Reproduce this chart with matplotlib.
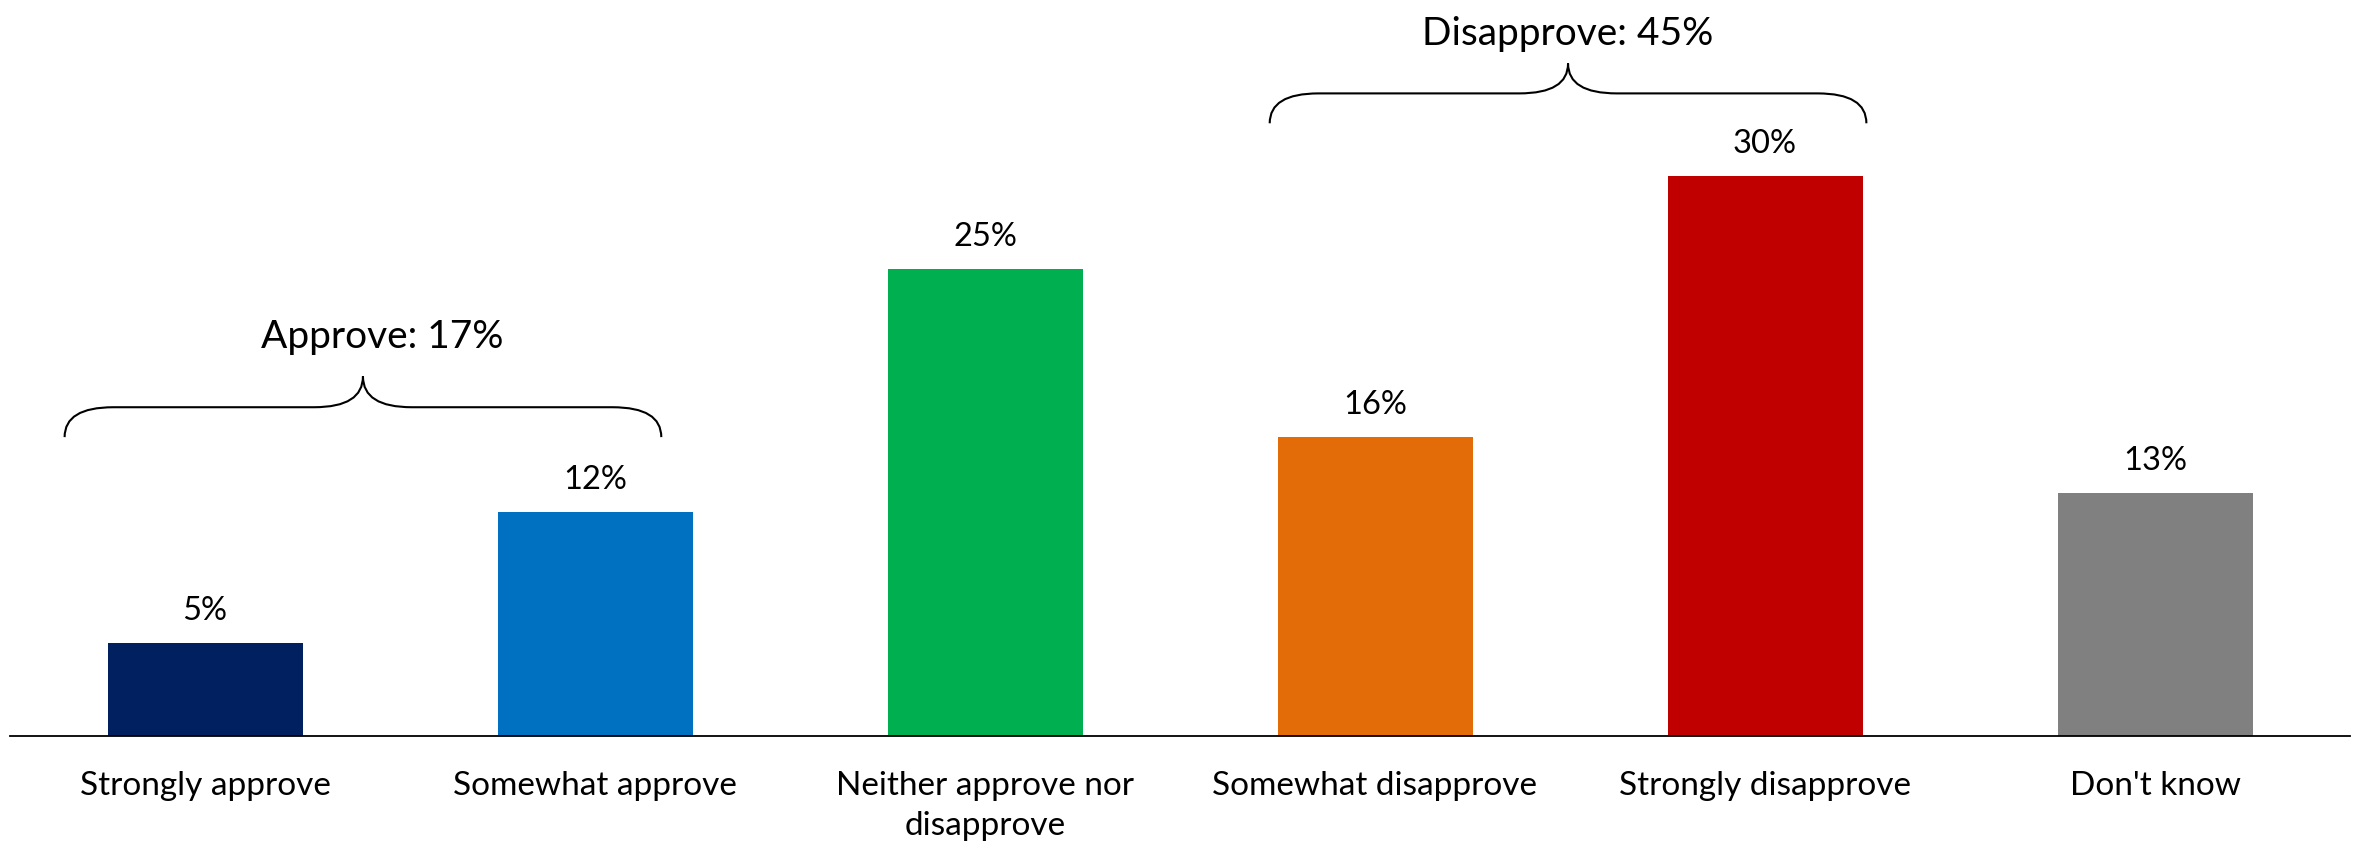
import numpy as np
import matplotlib.pyplot as plt
from matplotlib.path import Path
from matplotlib.patches import PathPatch

plt.rcParams['font.family'] = ['Lato', 'DejaVu Sans']

# ===================== data =====================
categories = [
    'Strongly approve',
    'Somewhat approve',
    'Neither approve nor\ndisapprove',
    'Somewhat disapprove',
    'Strongly disapprove',
    "Don't know",
]
values = [5, 12, 25, 16, 30, 13]
colors = ['#002060', '#0070C0', '#00B050', '#E36C09', '#C00000', '#808080']

group_labels = ['Approve: 17%', 'Disapprove: 45%']
group_members = [(0, 1), (3, 4)]

# ===================== figure =====================
fig = plt.figure(figsize=(23.59, 8.52), dpi=100)
ax = fig.add_axes([10 / 2359, 116 / 852, 2340 / 2359, 736 / 852])

x = np.arange(len(categories))
bars = ax.bar(x, values, width=0.5, color=colors)

for xi, v in zip(x, values):
    ax.annotate(f'{v}%', (xi, v), xytext=(0, 16.5), textcoords='offset points',
                ha='center', va='baseline', fontsize=23.5)

ax.set_xlim(-0.5, len(categories) - 0.5)
ax.set_ylim(0, 39.4)
ax.set_yticks([])
ax.set_xticks(x)
ax.set_xticklabels(categories, fontsize=24, linespacing=1.42)
ax.tick_params(axis='x', length=0, pad=25)
for side in ['left', 'right', 'top']:
    ax.spines[side].set_visible(False)
ax.spines['bottom'].set_linewidth(1.3)
ax.spines['bottom'].set_color('black')


# ===================== braces =====================
def draw_brace(ax, x0, x1, y_end, y_mid, y_tip, r):
    xc = (x0 + x1) / 2
    verts = [
        (x0, y_end), (x0, y_mid), (x0 + r, y_mid),
        (xc - r, y_mid),
        (xc, y_mid), (xc, y_tip),
        (xc, y_mid), (xc + r, y_mid),
        (x1 - r, y_mid),
        (x1, y_mid), (x1, y_end),
    ]
    codes = [
        Path.MOVETO, Path.CURVE3, Path.CURVE3,
        Path.LINETO,
        Path.CURVE3, Path.CURVE3,
        Path.CURVE3, Path.CURVE3,
        Path.LINETO,
        Path.CURVE3, Path.CURVE3,
    ]
    ax.add_patch(PathPatch(Path(verts, codes), fill=False, lw=1.5,
                           edgecolor='black', clip_on=False))
    return xc


# brace layout (x span offsets around member bars, y levels)
brace_style = [
    dict(dx0=-0.36, dx1=0.17, y_end=16.0, y_mid=17.6, y_tip=19.25, ty=20.4, tdx=0.05),
    dict(dx0=-0.27, dx1=0.26, y_end=32.8, y_mid=34.4, y_tip=36.0, ty=36.6, tdx=0.0),
]

for label, (a, b), st in zip(group_labels, group_members, brace_style):
    xc = draw_brace(ax, a + st['dx0'], b + st['dx1'],
                    st['y_end'], st['y_mid'], st['y_tip'], 0.125)
    ax.text(xc + st['tdx'], st['ty'], label, ha='center', va='bottom',
            fontsize=28)

fig.savefig('out.png', dpi=100)
